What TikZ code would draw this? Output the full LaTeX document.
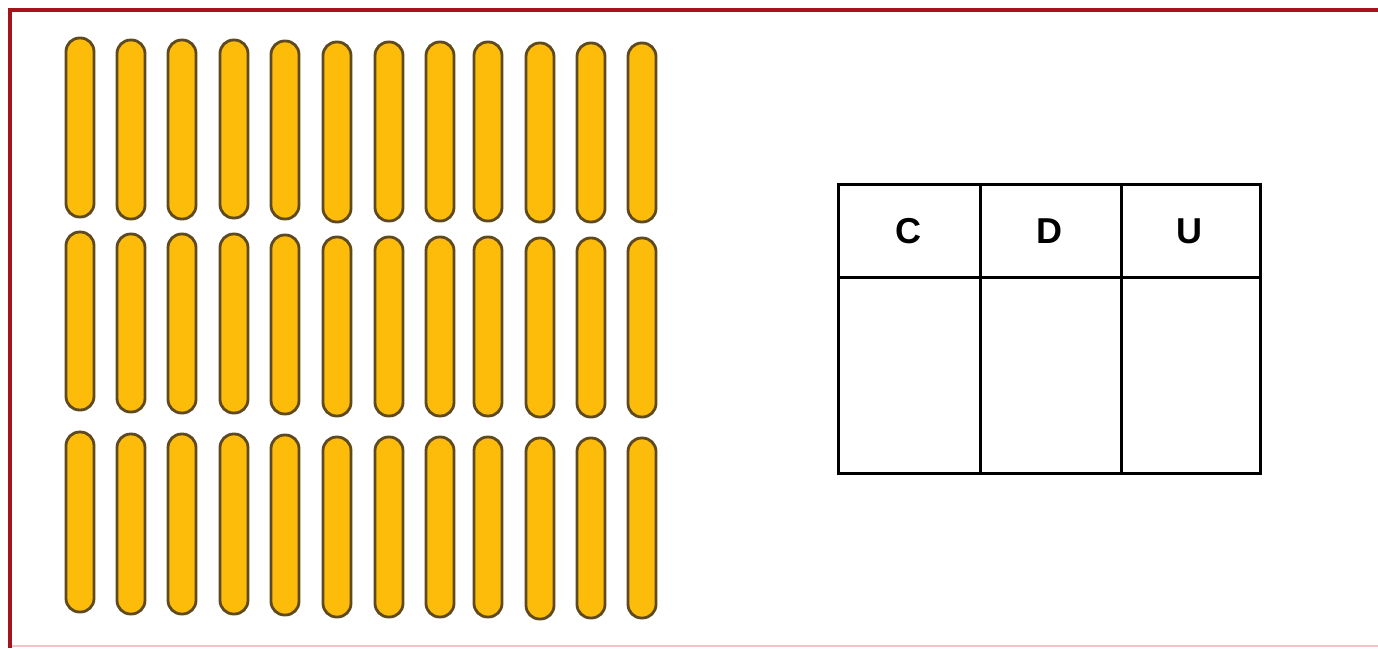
\documentclass[tikz,border=0pt]{standalone}
\usepackage{fontspec}
\setmainfont{Liberation Sans}
\begin{document}
\begin{tikzpicture}[x=1pt,y=-1pt,
  stickbox/.style={fill=stickgold,draw=stickedge,line width=2.8pt,rounded corners=13.5pt,
    minimum width=28pt,inner sep=0pt,outer sep=0pt},
  gridline/.style={draw=black,line width=3pt},
  headtext/.style={font=\bfseries\fontsize{36}{40}\selectfont,text=black}]
\definecolor{stickgold}{HTML}{FDBB0A}
\definecolor{stickedge}{HTML}{5E4A1E}
\definecolor{framered}{HTML}{A3141C}
\definecolor{framepink}{HTML}{F3C4C4}
\useasboundingbox (0,0) rectangle (1378,648);
\fill[white] (0,0) rectangle (1378,648);
% frame
\draw[framepink,line width=1.5pt] (10,646) -- (1378,646);
\draw[framered,line width=3.5pt] (1378,10) -- (10,10) -- (10,648);
% sticks: x centre, then tops/bottoms per row
\foreach \xc/\ta/\ba/\tb/\bb/\tc/\bc [count=\i] in {
  80/38/217/232/410/432/612,
  131/40/219/234/412/434/614,
  182/40/219/234/413/434/614,
  234/40/218/234/413/434/614,
  285/41/219/235/414/435/615,
  337/42/222/237/416/437/617,
  389/42/221/237/416/437/617,
  440/42/221/237/416/437/617,
  488/42/221/237/416/437/617,
  540/43/222/238/417/438/619,
  591/43/222/238/417/438/618,
  642/43/222/238/417/438/618}{
  \node[stickbox,minimum height=\ba-\ta] (sa\i) at (\xc,{(\ta+\ba)/2}) {};
  \node[stickbox,minimum height=\bb-\tb] (sb\i) at (\xc,{(\tb+\bb)/2}) {};
  \node[stickbox,minimum height=\bc-\tc] (sc\i) at (\xc,{(\tc+\bc)/2}) {};
}
% table
\draw[gridline] (838,184) rectangle (1260,473);
\draw[gridline] (838,277) -- (1260,277);
\draw[gridline] (980,184) -- (980,473);
\draw[gridline] (1121,184) -- (1121,473);
\node[headtext] (hc) at (908,231) {C};
\node[headtext] (hd) at (1049,231) {D};
\node[headtext] (hu) at (1189,231) {U};
\end{tikzpicture}
\end{document}
